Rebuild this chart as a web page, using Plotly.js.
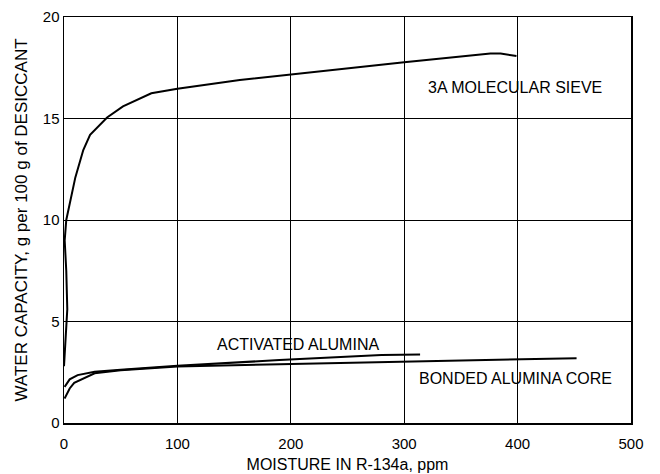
<!DOCTYPE html>
<html>
<head>
<meta charset="utf-8">
<script src="https://cdn.plot.ly/plotly-3.0.1.min.js"></script>
<style>
  html, body { margin: 0; padding: 0; background: #fff; }
  #chart { width: 660px; height: 474px; }
</style>
</head>
<body>
<div id="chart"></div>
<script>
// Water capacity of desiccants vs. moisture in R-134a
const sieveX = [0, 1.2, 2, 2.9, 2, 0.6, 2, 5, 10, 17, 23, 38, 52, 77, 100, 155, 208, 300, 376, 385, 399];
const sieveY = [2.8, 4, 4.75, 5.6, 7.5, 9, 10, 10.8, 12.1, 13.45, 14.2, 15.05, 15.6, 16.24, 16.47, 16.9, 17.23, 17.77, 18.2, 18.2, 18.08];

const activatedX = [0.5, 5, 12, 27, 50, 100, 190, 280, 314];
const activatedY = [1.78, 2.15, 2.36, 2.52, 2.62, 2.82, 3.1, 3.35, 3.38];

const bondedX = [0.5, 5, 9, 27, 50, 100, 190, 280, 350, 452];
const bondedY = [1.2, 1.7, 1.98, 2.45, 2.6, 2.78, 2.9, 3.0, 3.1, 3.19];

const labelText = ['3A MOLECULAR SIEVE', 'ACTIVATED ALUMINA', 'BONDED ALUMINA CORE'];
const labelX = [398, 206, 398];
const labelY = [16.55, 3.88, 2.17];

const xTicks = [0, 100, 200, 300, 400, 500];
const yTicks = [0, 5, 10, 15, 20];

const FONT = 'Liberation Sans, Arial, sans-serif';
const curve = { color: '#000', width: 2 };

const traces = [
  { x: sieveX, y: sieveY, mode: 'lines', line: curve, name: labelText[0] },
  { x: activatedX, y: activatedY, mode: 'lines', line: curve, name: labelText[1] },
  { x: bondedX, y: bondedY, mode: 'lines', line: curve, name: labelText[2] }
];

const annotations = labelText.map((t, i) => ({
  x: labelX[i], y: labelY[i], xref: 'x', yref: 'y',
  text: t, showarrow: false,
  font: { family: FONT, size: 16, color: '#000' },
  xanchor: 'center', yanchor: 'middle'
}));

const axisCommon = {
  showline: true, mirror: true, linecolor: '#000', linewidth: 1.5,
  showgrid: true, gridcolor: '#000', gridwidth: 1,
  zeroline: false, ticks: '',
  tickfont: { family: FONT, size: 15, color: '#000' },
  automargin: false
};

const layout = {
  width: 660, height: 474,
  margin: { l: 64, r: 29, t: 17, b: 51 },
  paper_bgcolor: '#fff', plot_bgcolor: '#fff',
  showlegend: false,
  xaxis: Object.assign({}, axisCommon, {
    range: [0, 500], tickvals: xTicks, ticktext: xTicks.map(String),
    ticklabelstandoff: 6,
    title: { text: 'MOISTURE IN R-134a, ppm', font: { family: FONT, size: 16, color: '#000' }, standoff: 8 }
  }),
  yaxis: Object.assign({}, axisCommon, {
    range: [0, 20], tickvals: yTicks, ticktext: yTicks.map(String),
    title: { text: 'WATER CAPACITY, g per 100 g of DESICCANT', font: { family: FONT, size: 17, color: '#000' }, standoff: 11 }
  }),
  annotations: annotations
};

Plotly.newPlot('chart', traces, layout, { staticPlot: true, displayModeBar: false });
</script>
</body>
</html>
